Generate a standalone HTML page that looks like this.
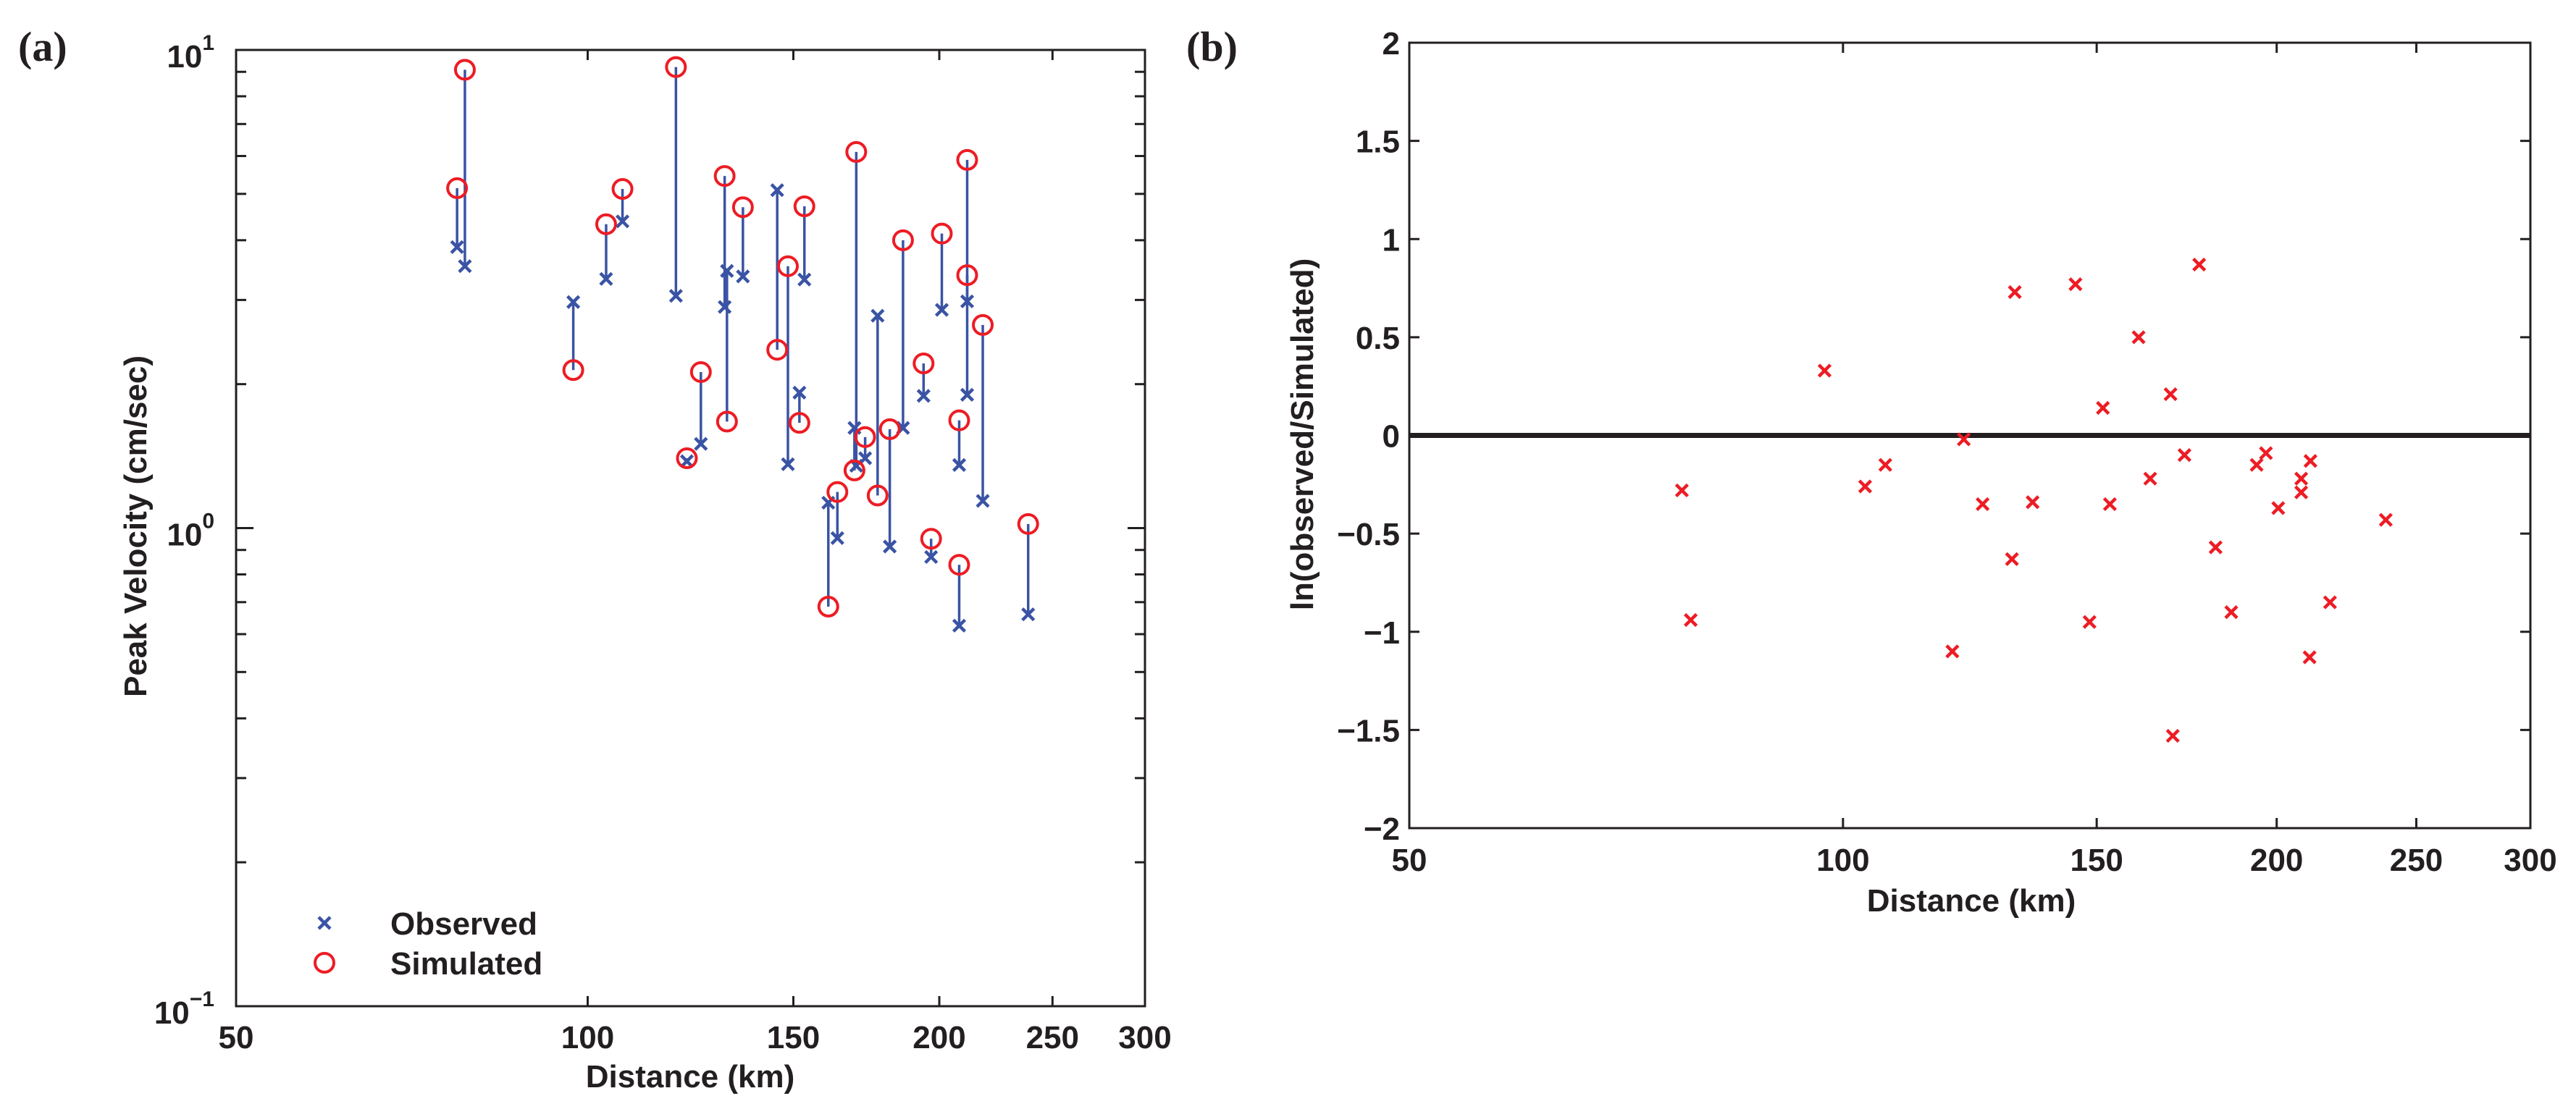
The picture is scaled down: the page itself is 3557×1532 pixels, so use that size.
<!DOCTYPE html>
<html><head><meta charset="utf-8"><style>
html,body{margin:0;padding:0;background:#fff;}
svg{display:block;}
text{font-family:"Liberation Sans",sans-serif;font-weight:bold;fill:#231f20;}
</style></head>
<body>
<svg id="fig" width="3557" height="1532" viewBox="0 0 3557 1532" xmlns="http://www.w3.org/2000/svg">
<text x="25" y="84" style="font-family:'Liberation Serif',serif;font-size:58px">(a)</text>
<text x="1638" y="84" style="font-family:'Liberation Serif',serif;font-size:58px">(b)</text>
<g id="pa"></g>
<g id="pb"></g>
</svg>
<script>
// Panel (a) data
const distA = [77.3,78.5,97.2,103.7,107.1,119.0,121.6,125.0,131.0,131.6,135.8,145.3,148.4,151.8,153.3,160.7,163.6,169.2,169.8,172.8,177.1,181.4,186.2,193.9,196.8,201.0,208.0,208.0,211.3,211.3,217.9,238.3];
const observedA = [3.87,3.53,2.97,3.32,4.38,3.06,1.38,1.50,2.90,3.45,3.36,5.09,1.36,1.92,3.31,1.13,0.953,1.62,1.35,1.40,2.78,0.915,1.62,1.89,0.870,2.86,1.355,0.625,2.98,1.90,1.14,0.660];
const simulatedA = [5.14,9.09,2.14,4.32,5.12,9.21,1.40,2.12,5.45,1.67,4.69,2.36,3.53,1.66,4.71,0.685,1.19,1.32,6.12,1.55,1.17,1.61,4.00,2.21,0.950,4.13,1.68,0.838,5.89,3.38,2.66,1.02];
const xTicks = [50,100,150,200,250,300];
const yDecadesA = [-1,0,1];
// Panel (b) data
const distB = [77.3,78.4,97.1,103.6,107.0,119.1,121.3,125.0,131.0,131.6,135.4,145.0,148.3,151.5,153.2,160.4,163.4,168.8,169.4,172.6,176.7,181.4,186.0,193.7,196.6,200.5,208.0,208.0,210.8,211.1,217.8,238.1];
const lnRatioB = [-0.28,-0.94,0.33,-0.26,-0.15,-1.10,-0.02,-0.35,-0.63,0.73,-0.34,0.77,-0.95,0.14,-0.35,0.50,-0.22,0.21,-1.53,-0.10,0.87,-0.57,-0.90,-0.15,-0.09,-0.37,-0.22,-0.29,-1.13,-0.13,-0.85,-0.43];
const yTicksB = [-2,-1.5,-1,-0.5,0,0.5,1,1.5,2];
const yTickLabelsB = ['\u22122','\u22121.5','\u22121','\u22120.5','0','0.5','1','1.5','2'];

const NS='http://www.w3.org/2000/svg';
function mk(parent,tag,attrs){const e=document.createElementNS(NS,tag);for(const k in attrs)e.setAttribute(k,attrs[k]);parent.appendChild(e);return e;}
const lg=Math.log10;

// ---------- Panel A ----------
const A={l:326,r:1581,t:69,b:1390};
const pa=document.getElementById('pa');
const xA=d=>A.l+(A.r-A.l)*(lg(d)-lg(50))/(lg(300)-lg(50));
const yA=v=>A.b-(A.b-A.t)*(lg(v)+1)/2;
for(let dec=-1;dec<1;dec++){for(let m=2;m<=9;m++){const y=yA(m*Math.pow(10,dec));
 const t1=mk(pa,'line',{x1:A.l,x2:A.l+14,y1:y,y2:y,stroke:'#231f20','stroke-width':3});
 
 
 const t2=mk(pa,'line',{x1:A.r,x2:A.r-14,y1:y,y2:y,stroke:'#231f20','stroke-width':3});
 
 }}
yDecadesA.forEach(p=>{const y=yA(Math.pow(10,p));
 const t1=mk(pa,'line',{x1:A.l,x2:A.l+24,y1:y,y2:y,stroke:'#231f20','stroke-width':3});
 
 
 const t2=mk(pa,'line',{x1:A.r,x2:A.r-24,y1:y,y2:y,stroke:'#231f20','stroke-width':3});
 
 
 const tx=mk(pa,'text',{x:296,y:y+24,'text-anchor':'end','font-size':44});
 
 
 tx.appendChild(document.createTextNode('10'));
 const sup=mk(tx,'tspan',{dy:-24,'font-size':30});sup.textContent=(p<0?'\u2212':'')+Math.abs(p);});
xTicks.forEach(d=>{const x=xA(d);
 const t1=mk(pa,'line',{x1:x,x2:x,y1:A.b,y2:A.b-14,stroke:'#231f20','stroke-width':3});
 
 
 const t2=mk(pa,'line',{x1:x,x2:x,y1:A.t,y2:A.t+14,stroke:'#231f20','stroke-width':3});
 
 
 const tx=mk(pa,'text',{x:x,y:1448,'text-anchor':'middle','font-size':44});
 
 
 tx.textContent=d;});
const boxA=mk(pa,'rect',{x:A.l,y:A.t,width:A.r-A.l,height:A.b-A.t,fill:'none',stroke:'#231f20','stroke-width':3});


distA.forEach((d,i)=>{const x=xA(d),yo=yA(observedA[i]),ys=yA(simulatedA[i]);
 const ln=mk(pa,'line',{x1:x,x2:x,y1:yo,y2:ys,stroke:'#3a53a4','stroke-width':3.5});
 
 });
distA.forEach((d,i)=>{const x=xA(d),y=yA(observedA[i]);
 const p=mk(pa,'path',{d:`M${x-8},${y-8}L${x+8},${y+8}M${x-8},${y+8}L${x+8},${y-8}`,stroke:'#3a53a4','stroke-width':4.5,fill:'none'});
 
 });
distA.forEach((d,i)=>{const x=xA(d),y=yA(simulatedA[i]);
 const c=mk(pa,'circle',{cx:x,cy:y,r:13,stroke:'#ed1c24','stroke-width':4,fill:'none'});
 
 });
</script>
<script>
(function(){
const pa=document.getElementById('pa');
const g=mk(pa,'g',{});


const m1=mk(g,'path',{d:'M440,1267L456,1283M440,1283L456,1267',stroke:'#3a53a4','stroke-width':4.5});


const t1=mk(g,'text',{x:539,y:1291,'font-size':44});t1.textContent='Observed';


const m2=mk(g,'circle',{cx:448,cy:1330,r:13,stroke:'#ed1c24','stroke-width':4,fill:'none'});


const t2=mk(g,'text',{x:539,y:1346,'font-size':44});t2.textContent='Simulated';


const xt=mk(pa,'text',{x:953,y:1502,'text-anchor':'middle','font-size':44});xt.textContent='Distance (km)';


const yt=mk(pa,'text',{x:0,y:0,'text-anchor':'middle','font-size':44,transform:'translate(202,727) rotate(-90)'});yt.textContent='Peak Velocity (cm/sec)';



// ---------- Panel B ----------
const B={l:1946,r:3494,t:59,b:1144};
const pb=document.getElementById('pb');
const xB=d=>B.l+(B.r-B.l)*(lg(d)-lg(50))/(lg(300)-lg(50));
const yB=v=>B.b-(B.b-B.t)*(v+2)/4;
yTicksB.forEach((v,i)=>{const y=yB(v);
 const a=mk(pb,'line',{x1:B.l,x2:B.l+14,y1:y,y2:y,stroke:'#231f20','stroke-width':3});
 
 
 const b=mk(pb,'line',{x1:B.r,x2:B.r-14,y1:y,y2:y,stroke:'#231f20','stroke-width':3});
 
 
 const tx=mk(pb,'text',{x:1933,y:y+16,'text-anchor':'end','font-size':44});tx.textContent=yTickLabelsB[i];
 
 });
xTicks.forEach(d=>{const x=xB(d);
 const a=mk(pb,'line',{x1:x,x2:x,y1:B.b,y2:B.b-14,stroke:'#231f20','stroke-width':3});
 
 
 const b=mk(pb,'line',{x1:x,x2:x,y1:B.t,y2:B.t+14,stroke:'#231f20','stroke-width':3});
 
 
 const tx=mk(pb,'text',{x:x,y:1203,'text-anchor':'middle','font-size':44});tx.textContent=d;
 
 });
const boxB=mk(pb,'rect',{x:B.l,y:B.t,width:B.r-B.l,height:B.b-B.t,fill:'none',stroke:'#231f20','stroke-width':3});


const zl=mk(pb,'line',{x1:B.l,x2:B.r,y1:yB(0),y2:yB(0),stroke:'#231f20','stroke-width':7});


distB.forEach((d,i)=>{const x=xB(d),y=yB(lnRatioB[i]);
 const p=mk(pb,'path',{d:`M${x-8},${y-8}L${x+8},${y+8}M${x-8},${y+8}L${x+8},${y-8}`,stroke:'#ed1c24','stroke-width':4.5,fill:'none'});
 
 });
const xt2=mk(pb,'text',{x:2722,y:1259,'text-anchor':'middle','font-size':44});xt2.textContent='Distance (km)';


const yt2=mk(pb,'text',{x:0,y:0,'text-anchor':'middle','font-size':44,transform:'translate(1813,600) rotate(-90)'});yt2.textContent='ln(observed/Simulated)';


})();
</script>
</body></html>
